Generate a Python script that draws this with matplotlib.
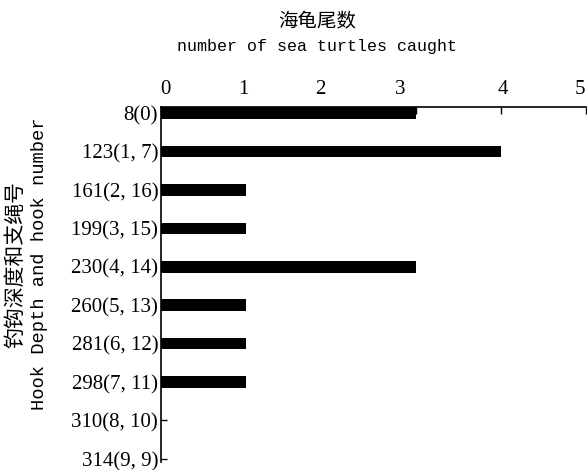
import matplotlib.pyplot as plt
from matplotlib.transforms import ScaledTranslation

# ------------------------------ dane ------------------------------
categories = ['8(0)', '123(1, 7)', '161(2, 16)', '199(3, 15)', '230(4, 14)',
              '260(5, 13)', '281(6, 12)', '298(7, 11)', '310(8, 10)', '314(9, 9)']
turtles = [3, 4, 1, 1, 3, 1, 1, 1, 0, 0]
x_ticks = [0, 1, 2, 3, 4, 5]

cjk = ['Noto Sans CJK SC', 'DejaVu Sans']

fig = plt.figure(figsize=(5.87, 4.70), dpi=100)
ax = fig.add_axes([161 / 587, 8 / 470, 425 / 587, 355 / 470])

pos = list(range(len(categories)))
ax.barh(pos, turtles, height=0.3, color='black')

ax.set_xlim(0, 5)
ax.set_ylim(9.08, -0.156)
ax.set_xticks(x_ticks)
ax.set_yticks(pos)
ax.set_yticklabels(categories, family='Liberation Serif', fontsize=15)
ax.set_xticklabels([str(t) for t in x_ticks], family='Liberation Serif', fontsize=15)

ax.xaxis.tick_top()
ax.tick_params(axis='x', direction='in', length=5, pad=6, width=1)
ax.tick_params(axis='y', direction='in', length=4, pad=2, width=1)
ax.spines['right'].set_visible(False)
ax.spines['bottom'].set_visible(False)
ax.spines['top'].set_linewidth(1.2)
ax.spines['left'].set_linewidth(1.2)

# przesunięcia etykiet osi X jak w oryginale (px)
shifts = [4, -3, -11, -16, 2, -6]
for lab, dx in zip(ax.get_xticklabels(), shifts):
    lab.set_transform(lab.get_transform() + ScaledTranslation(dx / 100, 0, fig.dpi_scale_trans))

# tytuły
fig.text(317 / 587, 1 - 22 / 470, '海龟尾数', ha='center', va='center',
         family=cjk, fontsize=14)
fig.text(317 / 587, 1 - 47 / 470, 'number of sea turtles caught', ha='center',
         va='center', family='Liberation Mono', fontsize=12)

fig.text(15 / 587, 1 - 264 / 470, '钓钩深度和支绳号', rotation=90, ha='center',
         va='center', family=cjk, fontsize=15)
fig.text(40 / 587, 1 - 264 / 470, 'Hook Depth and hook number', rotation=90,
         ha='center', va='center', family='Liberation Mono', fontsize=13.5)

fig.savefig('out.png', dpi=100)
